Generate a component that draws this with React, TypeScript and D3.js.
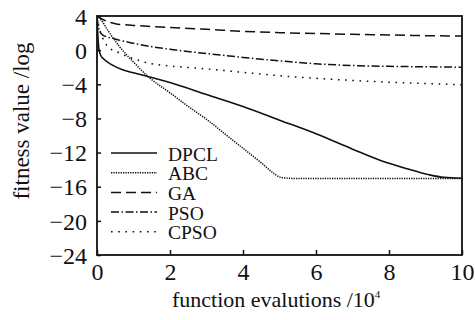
import React, { useRef, useEffect } from 'react';
import * as d3 from 'd3';

interface Pt {
  x: number;
  y: number;
}

const seriesNames = ['DPCL', 'ABC', 'GA', 'PSO', 'CPSO'];

const dpcl: [number, number][] = [
  [0, 4], [0.02, 2], [0.05, 0.2], [0.1, -0.6], [0.2, -1.1], [0.4, -1.7], [0.7, -2.3], [1, -2.65],
  [1.5, -3.2], [2, -3.8], [3, -5.2], [4, -6.6], [5, -8.2], [6, -9.8], [7, -11.6], [7.75, -12.9],
  [8.5, -13.9], [9.1, -14.6], [9.5, -14.9], [10, -15.0]
];

const abc: [number, number][] = [
  [0, 4], [0.1, 3.6], [0.3, 2.3], [0.6, 0.5], [1, -1.4], [1.4, -3.1], [2, -5.0], [2.5, -6.6],
  [3, -8.1], [3.5, -9.8], [4, -11.5], [4.5, -13.2], [4.8, -14.3], [5, -14.85], [5.3, -15.02],
  [6, -15.05], [7, -15.05], [8, -15.05], [9, -15.05], [10, -15.05]
];

const ga: [number, number][] = [
  [0, 4], [0.2, 3.5], [0.5, 3.1], [1, 2.9], [1.6, 2.75], [2, 2.65], [3, 2.45], [4, 2.2],
  [5, 2.05], [6, 1.95], [7, 1.85], [8, 1.78], [9, 1.7], [10, 1.65]
];

const pso: [number, number][] = [
  [0, 3.8], [0.05, 2.5], [0.15, 1.8], [0.5, 1.3], [1, 0.8], [1.5, 0.4], [2, 0.1], [3, -0.4],
  [4, -0.85], [5, -1.25], [6, -1.6], [7, -1.8], [8, -1.9], [9, -1.95], [10, -2.0]
];

const cpso: [number, number][] = [
  [0, 3.9], [0.05, 2.8], [0.15, 1.5], [0.3, 0.4], [0.6, -0.3], [1, -1.0], [1.5, -1.6],
  [2, -1.85], [3, -2.2], [4, -2.6], [5, -3.0], [6, -3.3], [7, -3.55], [8, -3.75], [9, -3.9], [10, -4.05]
];

const xTicks = [0, 2, 4, 6, 8, 10];
const yTicks = [4, 0, -4, -8, -12, -16, -20, -24];

const seriesData = [dpcl, abc, ga, pso, cpso];
const dashes = ['none', '1.3,1.1', '10,5', '8,2.5,1.5,2.5', '1.6,5.6'];

const App: React.FC = () => {
  const svgRef = useRef<SVGSVGElement | null>(null);

  const width = 475;
  const height = 320;
  const marginTop = 16;
  const marginRight = 13;
  const marginBottom = 65;
  const marginLeft = 97;
  const font = '"Liberation Serif", "Times New Roman", serif';

  useEffect(() => {
    if (!svgRef.current) {
      return;
    }
    const svg = d3.select(svgRef.current);
    svg.selectAll('*').remove();

    const x = d3.scaleLinear().domain([0, 10]).range([marginLeft, width - marginRight]);
    const y = d3.scaleLinear().domain([-24, 4]).range([height - marginBottom, marginTop]);

    svg.append('clipPath').attr('id', 'plot-clip')
      .append('rect')
      .attr('x', marginLeft)
      .attr('y', marginTop)
      .attr('width', width - marginRight - marginLeft)
      .attr('height', height - marginBottom - marginTop);

    const line = d3.line<Pt>()
      .x(d => x(d.x))
      .y(d => y(d.y))
      .curve(d3.curveMonotoneX);

    // curves
    seriesData.forEach((s, i) => {
      svg.append('path')
        .datum(s.map(([a, b]) => ({ x: a, y: b })))
        .attr('clip-path', 'url(#plot-clip)')
        .attr('fill', 'none')
        .attr('stroke', '#111')
        .attr('stroke-width', i === 0 ? 1.6 : 1.5)
        .attr('stroke-dasharray', dashes[i])
        .attr('d', line);
    });

    // frame
    svg.append('rect')
      .attr('x', marginLeft)
      .attr('y', marginTop)
      .attr('width', width - marginRight - marginLeft)
      .attr('height', height - marginBottom - marginTop)
      .attr('fill', 'none')
      .attr('stroke', '#111')
      .attr('stroke-width', 1.8);

    // x-axis ticks (inward)
    svg.append('g')
      .attr('transform', `translate(0,${height - marginBottom})`)
      .call(d3.axisBottom(x).tickValues(xTicks).tickSizeInner(-5).tickSizeOuter(0).tickPadding(8).tickFormat(d3.format('d')))
      .call(g => g.select('.domain').remove())
      .call(g => g.selectAll('line').attr('stroke', '#111').attr('stroke-width', 1.5))
      .call(g => g.selectAll('text')
        .attr('fill', '#111')
        .style('font-family', font)
        .style('font-size', '24px'));

    // y-axis ticks (inward)
    svg.append('g')
      .attr('transform', `translate(${marginLeft},0)`)
      .call(d3.axisLeft(y).tickValues(yTicks).tickSizeInner(-4).tickSizeOuter(0).tickPadding(10)
        .tickFormat(d => (+d < 0 ? '\u2212' + Math.abs(+d) : String(d))))
      .call(g => g.select('.domain').remove())
      .call(g => g.selectAll('line').attr('stroke', '#111').attr('stroke-width', 1.5))
      .call(g => g.selectAll('text')
        .attr('fill', '#111')
        .attr('dy', '0.34em')
        .style('font-family', font)
        .style('font-size', '24px'));

    // legend
    const legend = svg.append('g');
    seriesNames.forEach((name, i) => {
      const ly = 153 + i * 19.7;
      legend.append('line')
        .attr('x1', 111)
        .attr('x2', 157)
        .attr('y1', ly)
        .attr('y2', ly)
        .attr('stroke', '#111')
        .attr('stroke-width', 1.5)
        .attr('stroke-dasharray', dashes[i]);
      legend.append('text')
        .attr('x', 168)
        .attr('y', ly + 7.5)
        .attr('fill', '#111')
        .style('font-family', font)
        .style('font-size', '19.5px')
        .text(name);
    });

    // x label
    const xl = svg.append('text')
      .attr('x', 172)
      .attr('y', 307)
      .attr('fill', '#111')
      .style('font-family', font)
      .style('font-size', '22px');
    xl.append('tspan').text('function evalutions /10');
    xl.append('tspan')
      .attr('dy', -9)
      .style('font-size', '11px')
      .text('4');

    // y label
    svg.append('text')
      .attr('transform', 'translate(29,121) rotate(-90)')
      .attr('text-anchor', 'middle')
      .attr('fill', '#111')
      .style('font-family', font)
      .style('font-size', '23px')
      .text('fitness value /log');
  }, []);

  return (
    <svg
      ref={svgRef}
      width={width}
      height={height}
      style={{ position: 'fixed', left: 0, top: 0, background: '#fff' }}
    />
  );
};

export default App;
